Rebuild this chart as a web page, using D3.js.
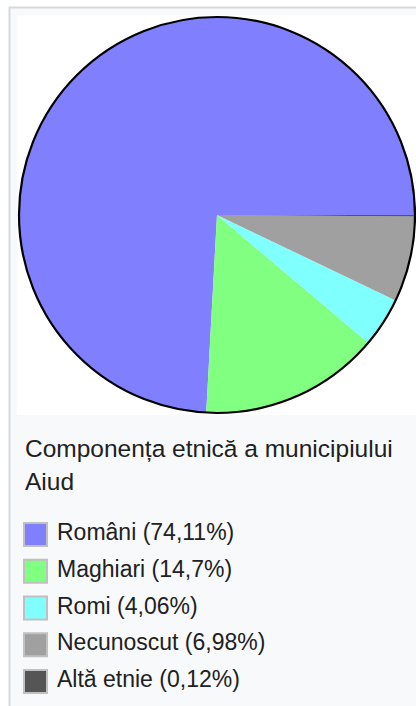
<!DOCTYPE html>
<html>
<head>
<meta charset="utf-8">
<script src="https://cdn.jsdelivr.net/npm/d3@7"></script>
<style>
  html, body { margin: 0; padding: 0; background: #fff; }
  svg { display: block; font-family: "Liberation Sans", Arial, sans-serif; }
</style>
</head>
<body>
<script>
// values
const groups = ["Români", "Maghiari", "Romi", "Necunoscut", "Altă etnie"];
const shares = [74.11, 14.7, 4.06, 6.98, 0.12];
const labels = ["Români (74,11%)", "Maghiari (14,7%)", "Romi (4,06%)", "Necunoscut (6,98%)", "Altă etnie (0,12%)"];
const colors = ["#8080ff", "#80ff80", "#80ffff", "#a0a0a0", "#555555"];
const caption = ["Componența etnică a municipiului", "Aiud"];

const width = 416, height = 706;
const cx = 217, cy = 215, r = 198;

const svg = d3.select("body").append("svg")
    .attr("width", width)
    .attr("height", height);

// infobox frame
svg.append("rect")
    .attr("x", 9.5).attr("y", 7.5)
    .attr("width", width + 10).attr("height", height + 10)
    .attr("fill", "#f8f9fa")
    .attr("stroke", "#d6d9de")
    .attr("stroke-width", 2);

svg.append("rect")
    .attr("x", 17).attr("y", 15)
    .attr("width", 400).attr("height", 400)
    .attr("fill", "#fff");

// slices run counterclockwise from 3 o'clock
const pie = d3.pie()
    .sort(null)
    .value(d => d.value)
    .startAngle(Math.PI / 2)
    .endAngle(Math.PI / 2 - 2 * Math.PI);

const arc = d3.arc().innerRadius(0).outerRadius(r);

const data = groups.map((g, i) => ({name: g, value: shares[i], color: colors[i]}));

const g = svg.append("g").attr("transform", `translate(${cx},${cy})`);

g.selectAll("path")
  .data(pie(data))
  .join("path")
    .attr("d", arc)
    .attr("fill", d => d.data.color);

g.append("circle")
    .attr("r", r)
    .attr("fill", "none")
    .attr("stroke", "#000")
    .attr("stroke-width", 2.2);

// caption
svg.append("g")
  .selectAll("text")
  .data(caption)
  .join("text")
    .attr("x", 25)
    .attr("y", (d, i) => 457 + i * 33)
    .attr("font-size", 24.5)
    .attr("fill", "#202122")
    .text(d => d);

// legend
const y = d3.scalePoint()
    .domain(groups)
    .range([522, 669]);

const item = svg.append("g")
  .selectAll("g")
  .data(data)
  .join("g")
    .attr("transform", d => `translate(0,${y(d.name)})`);

item.append("rect")
    .attr("x", 24).attr("y", 1)
    .attr("width", 23).attr("height", 23)
    .attr("fill", d => d.color)
    .attr("stroke", "#c0c0c0")
    .attr("stroke-width", 2);

item.append("text")
    .attr("x", 57)
    .attr("y", 18)
    .attr("font-size", 23)
    .attr("fill", "#202122")
    .text((d, i) => labels[i]);
</script>
</body>
</html>
